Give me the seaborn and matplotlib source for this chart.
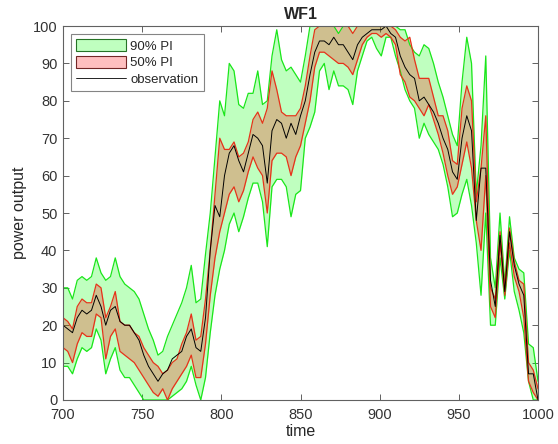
import numpy as np
import pandas as pd
import matplotlib
matplotlib.use("Agg")
import matplotlib.pyplot as plt
import seaborn as sns
from matplotlib.patches import Patch
from matplotlib.lines import Line2D

time = list(range(700, 1001, 3))

observation = [20, 19, 18, 22, 24, 23, 24, 28, 25, 20,
               24, 25, 21, 20, 20, 18, 16, 12, 9, 7,
               5, 7, 8, 11, 12, 13, 17, 19, 14, 13,
               22, 40, 52, 49, 60, 66, 68, 64, 61, 66,
               71, 70, 68, 58, 72, 75, 74, 70, 74, 71,
               76, 80, 87, 93, 96, 96, 95, 97, 95, 95,
               93, 91, 95, 97, 98, 99, 99, 99, 100, 98,
               97, 92, 89, 87, 86, 80, 81, 79, 77, 74,
               70, 67, 61, 59, 70, 76, 72, 48, 62, 62,
               32, 25, 44, 29, 45, 36, 31, 28, 7, 7, 0]

lo50 = [14, 13, 10, 15, 18, 17, 17, 23, 22, 11,
        17, 19, 13, 12, 11, 10, 8, 6, 4, 2,
        1, 3, 0, 3, 5, 7, 9, 12, 6, 6,
        15, 28, 38, 45, 50, 55, 57, 53, 56, 61,
        65, 62, 60, 50, 64, 66, 66, 65, 60, 65,
        68, 74, 80, 89, 93, 93, 92, 91, 90, 90,
        89, 87, 91, 95, 97, 98, 98, 97, 98, 97,
        95, 87, 85, 81, 80, 78, 76, 79, 75, 71,
        66, 60, 55, 57, 63, 69, 62, 48, 40, 60,
        25, 22, 42, 28, 42, 33, 29, 22, 5, 2, 0]

hi50 = [22, 21, 19, 25, 27, 26, 26, 31, 30, 22,
        25, 29, 21, 20, 20, 18, 17, 14, 12, 10,
        9, 7, 8, 10, 11, 15, 18, 23, 16, 17,
        27, 40, 55, 70, 67, 67, 69, 65, 66, 69,
        75, 77, 74, 78, 88, 83, 77, 76, 76, 76,
        78, 84, 92, 99, 100, 100, 100, 100, 100, 100,
        100, 98, 100, 100, 100, 100, 100, 100, 100, 100,
        99, 97, 96, 97, 91, 86, 86, 86, 81, 76,
        76, 72, 64, 63, 78, 84, 80, 53, 62, 76,
        30, 27, 45, 30, 46, 37, 32, 31, 10, 8, 3]

lo90 = [9, 9, 7, 11, 14, 13, 14, 19, 16, 7,
        11, 14, 8, 6, 6, 4, 2, 0, 0, 0,
        0, 0, 0, 1, 2, 3, 5, 9, 4, 0,
        6, 18, 28, 35, 40, 47, 50, 45, 49, 54,
        58, 58, 53, 41, 57, 59, 59, 57, 49, 55,
        56, 70, 73, 77, 88, 90, 83, 88, 84, 84,
        83, 79, 88, 92, 96, 97, 94, 92, 97, 97,
        92, 88, 83, 80, 78, 70, 74, 71, 69, 67,
        63, 57, 49, 50, 55, 59, 52, 42, 28, 50,
        20, 20, 38, 27, 40, 29, 24, 18, 5, 0, 0]

hi90 = [30, 30, 27, 32, 33, 32, 33, 38, 34, 32,
        33, 38, 33, 31, 30, 29, 27, 23, 19, 16,
        12, 13, 17, 20, 23, 26, 30, 36, 26, 27,
        39, 50, 65, 80, 76, 90, 88, 79, 78, 82,
        82, 88, 79, 80, 92, 99, 91, 88, 89, 87,
        85, 92, 100, 100, 100, 100, 100, 100, 98, 100,
        100, 100, 100, 100, 100, 100, 100, 100, 100, 100,
        100, 99, 99, 95, 93, 92, 95, 94, 90, 85,
        81, 76, 71, 68, 85, 97, 90, 55, 68, 92,
        38, 30, 50, 31, 49, 38, 35, 34, 15, 14, 5]

df = pd.DataFrame({"time": time, "observation": observation,
                   "lo50": lo50, "hi50": hi50, "lo90": lo90, "hi90": hi90})

sns.set_style("white")
plt.rcParams["font.family"] = ["Liberation Sans", "DejaVu Sans"]

fig = plt.figure(figsize=(5.58, 4.44), dpi=100)
ax = fig.add_axes([0.1129, 0.0991, 0.8513, 0.8423])

ax.fill_between(df["time"], df["lo90"], df["hi90"], color=(0, 1, 0), alpha=0.25, linewidth=0)
ax.fill_between(df["time"], df["lo50"], df["hi50"], color=(1, 0, 0), alpha=0.25, linewidth=0)
green_edge = (0.1, 0.9, 0.1)
red_edge = (0.9, 0.2, 0.1)
sns.lineplot(data=df, x="time", y="lo90", color=green_edge, linewidth=0.9, ax=ax)
sns.lineplot(data=df, x="time", y="hi90", color=green_edge, linewidth=0.9, ax=ax)
sns.lineplot(data=df, x="time", y="lo50", color=red_edge, linewidth=0.9, ax=ax)
sns.lineplot(data=df, x="time", y="hi50", color=red_edge, linewidth=0.9, ax=ax)
sns.lineplot(data=df, x="time", y="observation", color="black", linewidth=0.7, ax=ax)

ax.set_xlim(700, 1000)
ax.set_ylim(0, 100)
ax.set_xticks([700, 750, 800, 850, 900, 950, 1000])
ax.set_yticks(list(range(0, 101, 10)))
axis_gray = (0.38, 0.38, 0.38)
ax.tick_params(direction="in", length=4, width=0.7, colors=axis_gray,
               labelcolor=(0.2, 0.2, 0.2), labelsize=10.5,
               top=True, right=True, bottom=True, left=True)
ax.tick_params(axis="x", pad=6)
ax.tick_params(axis="y", pad=4)
for s in ax.spines.values():
    s.set_color(axis_gray)
    s.set_linewidth(0.8)
ax.set_xlabel("time", fontsize=11.5, color=(0.15, 0.15, 0.15), labelpad=1)
ax.set_ylabel("power output", fontsize=11.5, color=(0.15, 0.15, 0.15), labelpad=4)
ax.set_title("WF1", fontsize=11.5, fontweight="bold", pad=5)

handles = [Patch(facecolor=(0.75, 1.0, 0.75), edgecolor=(0.15, 0.45, 0.15), linewidth=0.8),
           Patch(facecolor=(1.0, 0.75, 0.75), edgecolor=(0.45, 0.15, 0.15), linewidth=0.8),
           Line2D([0], [0], color="black", linewidth=0.6)]
leg = ax.legend(handles, ["90% PI", "50% PI", "observation"], loc="upper left",
                fontsize=9.5, frameon=True, fancybox=False, handlelength=3.8,
                handleheight=1.0, handletextpad=0.3, labelspacing=0.25,
                borderpad=0.4, borderaxespad=0.6)
leg.get_frame().set_edgecolor((0.4, 0.4, 0.4))
leg.get_frame().set_linewidth(0.8)

fig.savefig("out.png", dpi=100)
